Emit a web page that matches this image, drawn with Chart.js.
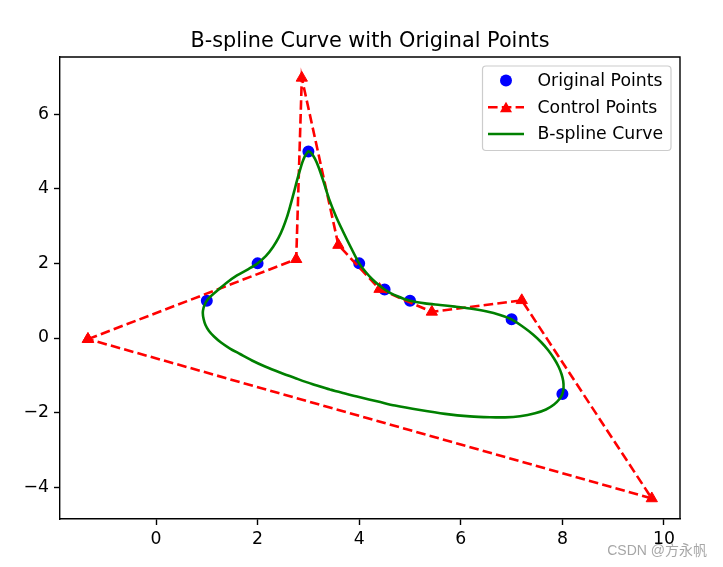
<!DOCTYPE html>
<html><head><meta charset="utf-8">
<script src="https://cdn.jsdelivr.net/npm/chart.js@4"></script>
<style>html,body{margin:0;padding:0;background:#fff}canvas{display:block}</style>
</head><body>
<canvas id="c" width="723" height="567"></canvas>
<script>
const titleText = 'B-spline Curve with Original Points';
const seriesLabels = ['Original Points', 'Control Points', 'B-spline Curve'];
const watermark = 'CSDN @方永帆';

const origX = [1, 2, 3, 4, 4.5, 5, 7, 8];
const origY = [1, 2, 5, 2, 1.3, 1, 0.5, -1.5];

const ctrlX = [-1.34, 2.76, 2.87, 3.59, 4.40, 5.43, 7.20, 9.76, -1.34];
const ctrlY = [-0.03, 2.11, 6.97, 2.49, 1.31, 0.70, 1.01, -4.30, -0.03];

// B-spline curve (closed loop, first points repeated at the end)
const curveX = [3.425, 3.071, 2.736, 2.441, 2.146, 1.890, 1.654, 1.457, 1.280, 1.142, 1.043, 0.974, 0.937, 0.921, 0.935, 0.965, 1.000, 1.053, 1.122, 1.220, 1.378, 1.594, 1.811, 2.000, 2.165, 2.303, 2.411, 2.500, 2.579, 2.648, 2.717, 2.776, 2.835, 2.884, 2.933, 2.972, 3.000, 3.061, 3.130, 3.199, 3.287, 3.406, 3.543, 3.681, 3.839, 4.000, 4.124, 4.252, 4.380, 4.500, 4.626, 4.754, 4.872, 5.000, 5.148, 5.295, 5.591, 5.886, 6.181, 6.516, 6.772, 7.000, 7.244, 7.421, 7.579, 7.717, 7.835, 7.923, 7.982, 8.016, 8.022, 8.000, 7.943, 7.835, 7.677, 7.461, 7.165, 6.870, 6.575, 6.181, 5.689, 5.197, 4.705, 4.370, 4.016, 3.720, 3.425, 3.071];
const curveY = [-1.381, -1.233, -1.072, -0.925, -0.764, -0.603, -0.429, -0.282, -0.121, 0.040, 0.188, 0.349, 0.509, 0.670, 0.804, 0.912, 1.000, 1.086, 1.172, 1.287, 1.469, 1.676, 1.842, 2.000, 2.198, 2.440, 2.681, 2.949, 3.244, 3.566, 3.914, 4.223, 4.504, 4.718, 4.879, 4.960, 5.000, 4.946, 4.799, 4.584, 4.236, 3.727, 3.257, 2.855, 2.418, 2.000, 1.775, 1.582, 1.426, 1.300, 1.198, 1.118, 1.054, 1.000, 0.957, 0.928, 0.885, 0.842, 0.791, 0.710, 0.617, 0.500, 0.282, 0.094, -0.107, -0.322, -0.550, -0.764, -0.965, -1.153, -1.340, -1.500, -1.635, -1.783, -1.917, -2.019, -2.097, -2.126, -2.123, -2.099, -2.032, -1.930, -1.810, -1.702, -1.590, -1.488, -1.381, -1.233];

const xTicks = [0, 2, 4, 6, 8, 10];
const yTicks = [-4, -2, 0, 2, 4, 6];
const xRange = [-1.89, 10.315];
const yRange = [-4.85, 7.53];

const BLUE = '#0000ff', RED = '#ff0000', GREEN = '#008000';
const FONT = '"DejaVu Sans", sans-serif';
Chart.defaults.font.family = FONT;

const pts = (xs, ys) => xs.map((x, i) => ({x: x, y: ys[i]}));
const fmt = v => String(v).replace('-', '\u2212');

function tri(ctx, x, y, r) {
  ctx.beginPath();
  let rad = 0;
  for (let k = 0; k < 3; k++) {
    const px = x + Math.sin(rad) * r, py = y - Math.cos(rad) * r;
    if (k === 0) ctx.moveTo(px, py); else ctx.lineTo(px, py);
    rad += 2 * Math.PI / 3;
  }
  ctx.closePath();
  ctx.fill();
}

const decor = {
  id: 'decor',
  afterDraw(chart) {
    const ctx = chart.ctx, a = chart.chartArea;
    ctx.save();
    ctx.strokeStyle = '#000'; ctx.lineWidth = 1.4;
    ctx.beginPath();
    ctx.moveTo(a.left, a.top); ctx.lineTo(a.right, a.top); ctx.lineTo(a.right, a.bottom);
    ctx.stroke();
    ctx.fillStyle = '#000';
    ctx.font = '20.8px ' + FONT;
    ctx.textAlign = 'center'; ctx.textBaseline = 'alphabetic';
    ctx.fillText(titleText, (a.left + a.right) / 2, 47);
    const bx = 482.5, by = 66, bw = 188.5, bh = 84.5, rr = 3.5;
    ctx.beginPath();
    ctx.roundRect(bx, by, bw, bh, rr);
    ctx.fillStyle = 'rgba(255,255,255,0.8)'; ctx.fill();
    ctx.strokeStyle = '#cccccc'; ctx.lineWidth = 1.2; ctx.stroke();
    const rows = [80.5, 107.2, 134];
    const hx0 = 488, hx1 = 524, hm = 506;
    ctx.fillStyle = BLUE;
    ctx.beginPath(); ctx.arc(hm, rows[0], 6, 0, Math.PI * 2); ctx.fill();
    ctx.strokeStyle = RED; ctx.lineWidth = 2.6; ctx.setLineDash([9.6, 4.2]);
    ctx.beginPath(); ctx.moveTo(hx0, rows[1]); ctx.lineTo(hx1, rows[1]); ctx.stroke();
    ctx.setLineDash([]);
    ctx.fillStyle = RED; tri(ctx, hm, rows[1] + 1.5, 7);
    ctx.strokeStyle = GREEN; ctx.lineWidth = 2.6;
    ctx.beginPath(); ctx.moveTo(hx0, rows[2]); ctx.lineTo(hx1, rows[2]); ctx.stroke();
    ctx.fillStyle = '#000'; ctx.font = '17.3px ' + FONT;
    ctx.textAlign = 'left'; ctx.textBaseline = 'middle';
    seriesLabels.forEach((t, i) => ctx.fillText(t, 537.5, rows[i] + 1));
    ctx.fillStyle = 'rgba(150,150,150,0.85)';
    ctx.font = '14px "Liberation Sans", "Noto Sans CJK SC", sans-serif';
    ctx.textAlign = 'right'; ctx.textBaseline = 'middle';
    ctx.fillText(watermark, 707, 551);
    ctx.restore();
  }
};

const axisCommon = {
  type: 'linear',
  grid: { display: true, drawOnChartArea: false, drawTicks: true, tickLength: 6, tickColor: '#000', tickWidth: 1.4, color: '#000' },
  border: { display: true, color: '#000', width: 1.4 },
  ticks: { color: '#000', font: { size: 17.3, family: FONT }, padding: 5, autoSkip: false, maxRotation: 0, callback: v => fmt(v) }
};

new Chart(document.getElementById('c'), {
  type: 'scatter',
  data: {
    datasets: [
      { label: seriesLabels[0], data: pts(origX, origY), showLine: false,
        pointRadius: 5.2, pointBorderWidth: 1.6, backgroundColor: BLUE, borderColor: BLUE, pointHoverRadius: 5.2, order: 2 },
      { label: seriesLabels[1], data: pts(ctrlX, ctrlY), showLine: true, tension: 0,
        borderColor: RED, borderWidth: 2.6, borderDash: [9.6, 4.2], pointStyle: 'triangle',
        pointRadius: 6.5, pointBorderWidth: 1, pointBackgroundColor: RED, pointBorderColor: RED, backgroundColor: RED, order: 1 },
      { label: seriesLabels[2], data: pts(curveX, curveY), showLine: true, tension: 0.3,
        borderColor: GREEN, borderWidth: 2.6, pointRadius: 0, pointHoverRadius: 0, order: 0 }
    ]
  },
  options: {
    responsive: false, animation: false, devicePixelRatio: 1,
    layout: { padding: { top: 57, right: 43, left: 0, bottom: 0 } },
    plugins: { legend: { display: false }, title: { display: false }, tooltip: { enabled: false } },
    scales: {
      x: Object.assign({}, axisCommon, {
        min: xRange[0], max: xRange[1], position: 'bottom',
        afterBuildTicks: s => { s.ticks = xTicks.map(v => ({ value: v })); },
        afterFit: s => { s.height = 48; },
        ticks: Object.assign({}, axisCommon.ticks, { padding: 4 })
      }),
      y: Object.assign({}, axisCommon, {
        min: yRange[0], max: yRange[1], position: 'left',
        afterBuildTicks: s => { s.ticks = yTicks.map(v => ({ value: v })); },
        afterFit: s => { s.width = 60; }
      })
    }
  },
  plugins: [decor]
});
</script>
</body></html>
